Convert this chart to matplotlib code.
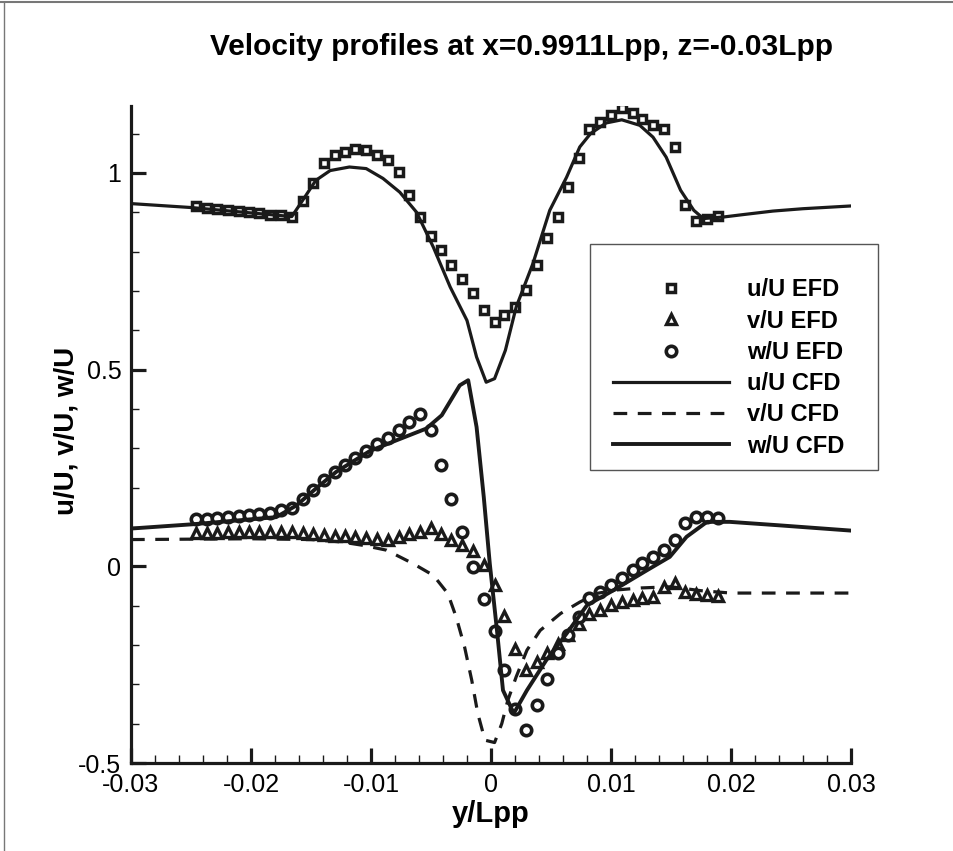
import matplotlib
matplotlib.use("Agg")
import matplotlib.pyplot as plt
from matplotlib.lines import Line2D
from matplotlib.patches import Rectangle
from matplotlib.ticker import MultipleLocator

plt.rcParams["font.family"] = ["Liberation Sans", "DejaVu Sans"]
plt.rcParams["axes.unicode_minus"] = False

# experiment stations (y/Lpp), shared by u, v, w
y_efd = [-0.0246, -0.0237, -0.0228, -0.0219, -0.0210, -0.0202, -0.0193, -0.0184, -0.0175, -0.0166,
         -0.0157, -0.0148, -0.0139, -0.0130, -0.0122, -0.0113, -0.0104, -0.0095, -0.0086, -0.0077,
         -0.0068, -0.0059, -0.0050, -0.0042, -0.0033, -0.0024, -0.0015, -0.0006, 0.0003, 0.0011,
         0.0020, 0.0029, 0.0038, 0.0047, 0.0056, 0.0064, 0.0073, 0.0082, 0.0091, 0.0100,
         0.0109, 0.0118, 0.0126, 0.0135, 0.0144, 0.0153, 0.0162, 0.0171, 0.0180, 0.0189]
u_efd = [0.915, 0.912, 0.909, 0.906, 0.903, 0.900, 0.897, 0.894, 0.892, 0.889,
         0.928, 0.975, 1.024, 1.045, 1.053, 1.061, 1.057, 1.046, 1.034, 1.002,
         0.945, 0.889, 0.839, 0.803, 0.767, 0.731, 0.695, 0.651, 0.621, 0.640,
         0.659, 0.703, 0.767, 0.834, 0.889, 0.963, 1.038, 1.111, 1.129, 1.147,
         1.166, 1.153, 1.138, 1.122, 1.111, 1.065, 0.918, 0.879, 0.883, 0.890]
v_efd = [0.084, 0.085, 0.085, 0.086, 0.086, 0.087, 0.087, 0.087, 0.087, 0.086,
         0.084, 0.081, 0.079, 0.077, 0.076, 0.074, 0.072, 0.070, 0.068, 0.075,
         0.081, 0.088, 0.098, 0.083, 0.068, 0.053, 0.039, 0.003, -0.048, -0.127,
         -0.209, -0.264, -0.243, -0.220, -0.197, -0.175, -0.146, -0.122, -0.112, -0.099,
         -0.091, -0.085, -0.080, -0.078, -0.053, -0.042, -0.065, -0.071, -0.074, -0.075]
w_efd = [0.119, 0.121, 0.124, 0.125, 0.128, 0.130, 0.134, 0.136, 0.144, 0.149,
         0.170, 0.193, 0.219, 0.240, 0.257, 0.275, 0.293, 0.310, 0.327, 0.346,
         0.367, 0.388, 0.347, 0.258, 0.171, 0.086, -0.003, -0.083, -0.165, -0.264,
         -0.362, -0.417, -0.353, -0.287, -0.220, -0.175, -0.129, -0.080, -0.065, -0.047,
         -0.029, -0.010, 0.008, 0.024, 0.041, 0.066, 0.110, 0.125, 0.125, 0.124]

y_u_cfd = [-0.03, -0.025, -0.0166, -0.0157, -0.0146, -0.0134, -0.0118, -0.0104, -0.009, -0.0076,
           -0.0062, -0.0048, -0.0034, -0.002, -0.0012, -0.0004, 0.0003, 0.0012, 0.0021, 0.0035,
           0.0049, 0.0063, 0.0074, 0.0083, 0.0096, 0.0109, 0.0124, 0.0135, 0.0146, 0.0158,
           0.0169, 0.0177, 0.0194, 0.021, 0.0235, 0.026, 0.03]
u_cfd = [0.922, 0.912, 0.889, 0.930, 0.981, 1.006, 1.015, 1.011, 0.986, 0.951,
         0.900, 0.811, 0.710, 0.625, 0.532, 0.468, 0.477, 0.549, 0.659, 0.770,
         0.905, 0.989, 1.066, 1.100, 1.127, 1.135, 1.121, 1.091, 1.040, 0.956,
         0.905, 0.884, 0.888, 0.894, 0.903, 0.909, 0.916]

y_v_cfd = [-0.03, -0.02, -0.015, -0.0125, -0.0106, -0.0087, -0.0065, -0.0048, -0.0036, -0.0029,
           -0.0022, -0.0016, -0.0011, -0.0005, 0.0003, 0.0009, 0.0014, 0.0021, 0.003, 0.0041,
           0.0058, 0.0074, 0.0088, 0.0105, 0.0125, 0.015, 0.0175, 0.02, 0.03]
v_cfd = [0.068, 0.070, 0.068, 0.062, 0.053, 0.041, 0.007, -0.023, -0.069, -0.129,
         -0.205, -0.290, -0.374, -0.442, -0.448, -0.400, -0.341, -0.281, -0.213, -0.163,
         -0.120, -0.091, -0.069, -0.060, -0.055, -0.052, -0.062, -0.068, -0.068]

y_w_cfd = [-0.03, -0.0248, -0.0179, -0.0162, -0.0145, -0.0129, -0.0101, -0.0079, -0.0054, -0.0041,
           -0.0026, -0.0019, -0.0012, -0.0006, -0.0001, 0.0005, 0.001, 0.0019, 0.003, 0.0046,
           0.0063, 0.0080, 0.0102, 0.013, 0.0149, 0.0163, 0.018, 0.0199, 0.0241, 0.0299]
w_cfd = [0.096, 0.107, 0.125, 0.155, 0.200, 0.240, 0.293, 0.320, 0.350, 0.384,
         0.460, 0.473, 0.354, 0.176, 0.007, -0.163, -0.315, -0.374, -0.315, -0.239,
         -0.171, -0.099, -0.061, -0.010, 0.024, 0.075, 0.113, 0.113, 0.104, 0.091]

x_ticks = [-0.03, -0.02, -0.01, 0, 0.01, 0.02, 0.03]
x_labels = ["-0.03", "-0.02", "-0.01", "0", "0.01", "0.02", "0.03"]
y_ticks = [-0.5, 0, 0.5, 1]
y_labels = ["-0.5", "0", "0.5", "1"]

fig = plt.figure(figsize=(9.54, 8.51), dpi=100)
ax = fig.add_axes([0.1373, 0.1034, 0.7547, 0.7720])

k = "#1a1a1a"
ms_kw = dict(linestyle="none", color=k, markerfacecolor="white")
ax.plot(y_efd, u_efd, marker="s", markersize=6.3, markeredgewidth=2.5, label="u/U EFD", **ms_kw)
ax.plot(y_efd, v_efd, marker="^", markersize=7.5, markeredgewidth=2.4, label="v/U EFD", **ms_kw)
ax.plot(y_efd, w_efd, marker="o", markersize=7.5, markeredgewidth=2.6, label="w/U EFD", **ms_kw)
ax.plot(y_u_cfd, u_cfd, color=k, lw=2.3, label="u/U CFD")
ax.plot(y_v_cfd, v_cfd, color=k, lw=2.3, linestyle=(0, (4.3, 3.3)), label="v/U CFD")
ax.plot(y_w_cfd, w_cfd, color=k, lw=2.8, label="w/U CFD")

ax.set_xlim(-0.03, 0.03)
ax.set_ylim(-0.5, 1.17)
ax.set_xticks(x_ticks)
ax.set_xticklabels(x_labels)
ax.set_yticks(y_ticks)
ax.set_yticklabels(y_labels)
ax.xaxis.set_minor_locator(MultipleLocator(0.002))
ax.yaxis.set_minor_locator(MultipleLocator(0.1))
for s in ["top", "right"]:
    ax.spines[s].set_visible(False)
for s in ["left", "bottom"]:
    ax.spines[s].set_linewidth(2.3)
    ax.spines[s].set_color(k)
ax.tick_params(which="major", direction="in", length=11, width=2.3, color=k,
               labelsize=18, pad=7)
ax.tick_params(which="minor", direction="in", length=6, width=1.0, color=k)
ax.tick_params(axis="y", which="major", pad=7)

ax.set_xlabel("y/Lpp", fontsize=21, fontweight="bold", labelpad=2)
ax.set_ylabel("u/U, v/U, w/U", fontsize=20, fontweight="bold")
ax.yaxis.set_label_coords(-0.071, 0.505)
fig.text(0.547, 0.945, "Velocity profiles at x=0.9911Lpp, z=-0.03Lpp",
         ha="center", va="center", fontsize=21.5, fontweight="bold")

leg = fig.legend(*ax.get_legend_handles_labels(), loc="center",
                 bbox_to_anchor=(728.5 / 954, 1 - 368 / 851), frameon=False,
                 prop=dict(size=17, weight="bold"), handlelength=4.9,
                 handletextpad=0.76, labelspacing=0.35, borderpad=0)
fig.add_artist(Rectangle((0.6184, 0.4477), 0.3019, 0.2656, transform=fig.transFigure,
                         fill=False, edgecolor="#555555", lw=1.0))

# page frame
fig.add_artist(Line2D([0, 1], [0.998, 0.998], transform=fig.transFigure, color="#777777", lw=1.5))
fig.add_artist(Line2D([0.004, 0.004], [0, 0.998], transform=fig.transFigure, color="#777777", lw=1.0))

fig.savefig("out.png", dpi=100)
